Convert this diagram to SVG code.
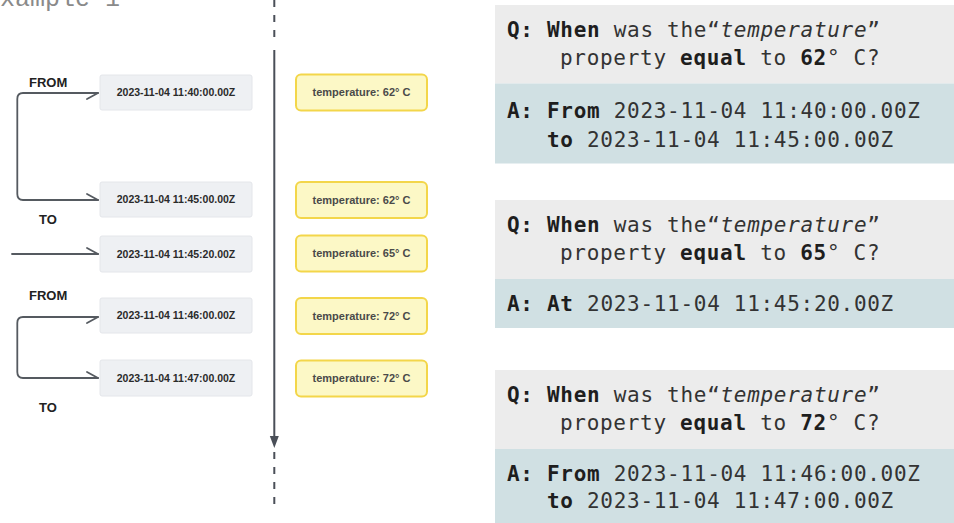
<svg xmlns="http://www.w3.org/2000/svg" width="954" height="523" viewBox="0 0 954 523">
  <defs>
    <style>
      .title { font-family: "Liberation Mono", "DejaVu Sans Mono", monospace; font-size: 25px; fill: #8a8a8a; }
      .lbl { font-family: "Liberation Sans", Arial, sans-serif; font-size: 13px; font-weight: bold; fill: #222; }
      .ts { fill: #eef0f3; stroke: #e4e6ea; stroke-width: 1; }
      .tst { font-family: "Liberation Sans", Arial, sans-serif; font-size: 10.5px; font-weight: bold; fill: #2a2a2a; text-anchor: middle; }
      .val { fill: #fcf8c6; stroke: #f3d64a; stroke-width: 2; }
      .valt { font-family: "Liberation Sans", Arial, sans-serif; font-size: 11px; font-weight: bold; fill: #4a4a4a; text-anchor: middle; }
      .conn { fill: none; stroke: #555a60; stroke-width: 1.8; stroke-linejoin: round; stroke-linecap: round; }
      .axis { fill: none; stroke: #4a4f58; stroke-width: 2; }
      .dash { fill: none; stroke: #4a4f58; stroke-width: 2; stroke-dasharray: 7 8; }
      .qbg { fill: #ececec; }
      .abg { fill: #d0e0e3; }
      .qa { font-family: "DejaVu Sans Mono", "Liberation Mono", monospace; font-size: 21px; letter-spacing: 0.7px; fill: #333; }
      .b { font-weight: bold; fill: #1e1e1e; }
      .i { font-style: italic; }
    </style>
  </defs>

  <rect width="954" height="523" fill="#ffffff"/>

  <text class="title" x="-15" y="6">Example 1</text>

  <!-- time axis -->
  <g id="axis">
    <path class="dash" d="M274.3,0 V44"/>
    <path class="axis" d="M274.3,50 V438"/>
    <polygon points="269.8,436 278.8,436 274.3,448" fill="#4a4f58"/>
    <path class="dash" d="M274.3,452 V506"/>
  </g>

  <!-- connectors: FROM/TO brackets and single-point arrow -->
  <g id="connectors">
    <path class="conn" d="M98,93 H23 Q17.3,93 17.3,99 V194 Q17.3,200 23,200 H98"/>
    <path class="conn" d="M98,93 L87,99"/>
    <path class="conn" d="M98,200 L87,194"/>
    <path class="conn" d="M12,254 H98"/>
    <path class="conn" d="M98,254 L87,248"/>
    <path class="conn" d="M98,317 H23 Q17.3,317 17.3,323 V372 Q17.3,378 23,378 H98"/>
    <path class="conn" d="M98,317 L87,323"/>
    <path class="conn" d="M98,378 L87,372"/>
  </g>

  <g id="labels">
    <text class="lbl" x="29" y="87">FROM</text>
    <text class="lbl" x="39" y="224">TO</text>
    <text class="lbl" x="29" y="300">FROM</text>
    <text class="lbl" x="39" y="412">TO</text>
  </g>

  <!-- timestamps -->
  <g id="ts1"><rect class="ts" x="100" y="75" width="152" height="35" rx="2"/><text class="tst" x="176" y="96">2023-11-04 11:40:00.00Z</text></g>
  <g id="ts2"><rect class="ts" x="100" y="182" width="152" height="35" rx="2"/><text class="tst" x="176" y="203">2023-11-04 11:45:00.00Z</text></g>
  <g id="ts3"><rect class="ts" x="100" y="236" width="152" height="36" rx="2"/><text class="tst" x="176" y="257.5">2023-11-04 11:45:20.00Z</text></g>
  <g id="ts4"><rect class="ts" x="100" y="298" width="152" height="35" rx="2"/><text class="tst" x="176" y="319">2023-11-04 11:46:00.00Z</text></g>
  <g id="ts5"><rect class="ts" x="100" y="360" width="152" height="36" rx="2"/><text class="tst" x="176" y="381.5">2023-11-04 11:47:00.00Z</text></g>

  <!-- property values -->
  <g id="v1"><rect class="val" x="296" y="74.5" width="131" height="36" rx="5"/><text class="valt" x="361.5" y="96">temperature: 62° C</text></g>
  <g id="v2"><rect class="val" x="296" y="182" width="131" height="36" rx="5"/><text class="valt" x="361.5" y="203.5">temperature: 62° C</text></g>
  <g id="v3"><rect class="val" x="296" y="235.5" width="131" height="36" rx="5"/><text class="valt" x="361.5" y="257">temperature: 65° C</text></g>
  <g id="v4"><rect class="val" x="296" y="298" width="131" height="36" rx="5"/><text class="valt" x="361.5" y="319.5">temperature: 72° C</text></g>
  <g id="v5"><rect class="val" x="296" y="360.5" width="131" height="36" rx="5"/><text class="valt" x="361.5" y="382">temperature: 72° C</text></g>

  <!-- question / answer panels -->
  <g id="qa1">
    <rect class="qbg" x="495" y="5" width="459" height="78.5"/>
    <rect class="abg" x="495" y="83.5" width="459" height="80"/>
    <text class="qa" x="507" y="37"><tspan class="b">Q:</tspan> <tspan class="b">When</tspan> was the“<tspan class="i">temperature</tspan>”</text>
    <text class="qa" x="560" y="65">property <tspan class="b">equal</tspan> to <tspan class="b">62</tspan>° C?</text>
    <text class="qa" x="507" y="118"><tspan class="b">A:</tspan> <tspan class="b">From</tspan> 2023-11-04 11:40:00.00Z</text>
    <text class="qa" x="547" y="147"><tspan class="b">to</tspan> 2023-11-04 11:45:00.00Z</text>
  </g>

  <g id="qa2">
    <rect class="qbg" x="495" y="200" width="459" height="79"/>
    <rect class="abg" x="495" y="279" width="459" height="49"/>
    <text class="qa" x="507" y="232"><tspan class="b">Q:</tspan> <tspan class="b">When</tspan> was the“<tspan class="i">temperature</tspan>”</text>
    <text class="qa" x="560" y="260">property <tspan class="b">equal</tspan> to <tspan class="b">65</tspan>° C?</text>
    <text class="qa" x="507" y="311"><tspan class="b">A:</tspan> <tspan class="b">At</tspan> 2023-11-04 11:45:20.00Z</text>
  </g>

  <g id="qa3">
    <rect class="qbg" x="495" y="370" width="459" height="79"/>
    <rect class="abg" x="495" y="449" width="459" height="74"/>
    <text class="qa" x="507" y="402"><tspan class="b">Q:</tspan> <tspan class="b">When</tspan> was the“<tspan class="i">temperature</tspan>”</text>
    <text class="qa" x="560" y="430">property <tspan class="b">equal</tspan> to <tspan class="b">72</tspan>° C?</text>
    <text class="qa" x="507" y="481"><tspan class="b">A:</tspan> <tspan class="b">From</tspan> 2023-11-04 11:46:00.00Z</text>
    <text class="qa" x="547" y="508"><tspan class="b">to</tspan> 2023-11-04 11:47:00.00Z</text>
  </g>
</svg>
